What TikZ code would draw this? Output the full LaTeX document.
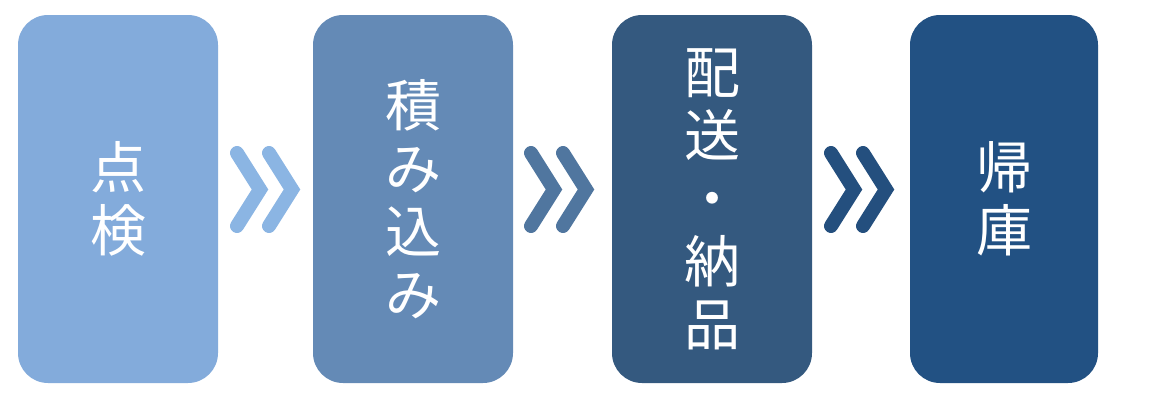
\documentclass[tikz,border=0pt]{standalone}
\usepackage{fontspec}
\newfontfamily\jpfont{Noto Sans CJK JP}
\definecolor{boxA}{HTML}{83ABDB}
\definecolor{boxB}{HTML}{648AB6}
\definecolor{boxC}{HTML}{34597F}
\definecolor{boxD}{HTML}{225183}
\definecolor{chevA}{HTML}{8BB5E3}
\definecolor{chevB}{HTML}{50769F}
\definecolor{chevC}{HTML}{244F7E}

\begin{document}
\begin{tikzpicture}[x=1pt,y=-1pt]
    \tikzstyle{stage}=[rounded corners=30pt,inner sep=0pt,minimum height=368pt,text=white,align=center,font=\jpfont\fontsize{56}{63}\selectfont]
    \tikzstyle{chev}=[line width=14pt,line cap=round,line join=miter]
    \useasboundingbox (0,0) rectangle (1170,400);
    \node[stage,fill=boxA,minimum width=200pt] (tenken) at (118,199) {点\\検};
    \node[stage,fill=boxB,minimum width=200pt] (tsumikomi) at (413,199) {積\\み\\込\\み};
    \node[stage,fill=boxC,minimum width=200pt] (haisou) at (712,199) {配\\送\\・\\納\\品};
    \node[stage,fill=boxD,minimum width=188pt] (kiko) at (1004,199) {帰\\庫};
    % double chevrons between the stages
    \foreach \dx/\col in {0/chevA,294/chevB,594/chevC}
      \foreach \k in {0,32}
        \draw[chev,\col] (237+\dx+\k,153) -- (260+\dx+\k,189.5) -- (237+\dx+\k,226);
\end{tikzpicture}
\end{document}
